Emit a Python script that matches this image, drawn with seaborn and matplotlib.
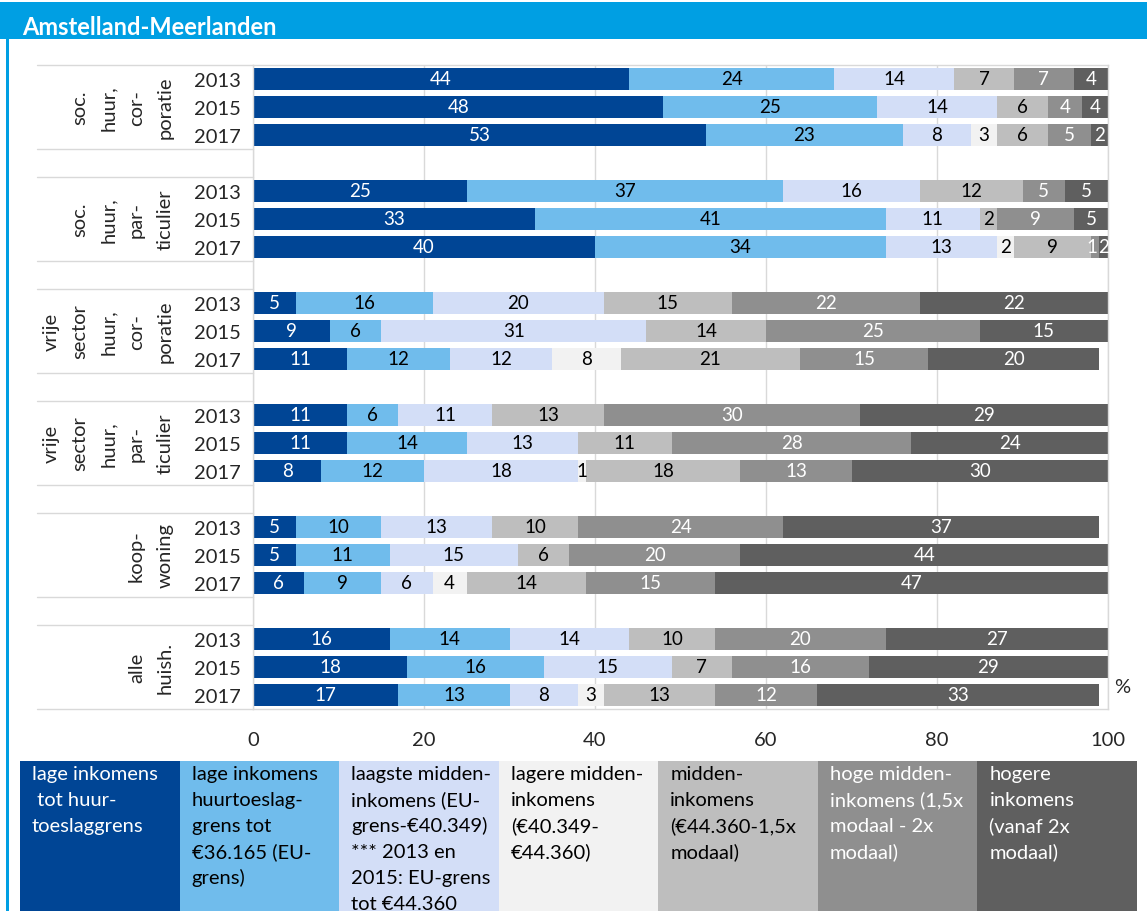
import numpy as np
import pandas as pd
import matplotlib
matplotlib.use("Agg")
import matplotlib.pyplot as plt
import seaborn as sns
from matplotlib.patches import Rectangle
from matplotlib.transforms import blended_transform_factory

# ---- data -------------------------------------------------------------
title = "Amstelland-Meerlanden"
groups = [
    "soc.\nhuur,\ncor-\nporatie",
    "soc.\nhuur,\npar-\nticulier",
    "vrije\nsector\nhuur,\ncor-\nporatie",
    "vrije\nsector\nhuur,\npar-\nticulier",
    "koop-\nwoning",
    "alle\nhuish.",
]
years = ["2013", "2015", "2017"]

categories = [
    "lage inkomens\n tot huur-\ntoeslaggrens",
    "lage inkomens\nhuurtoeslag-\ngrens tot\n€36.165 (EU-\ngrens)",
    "laagste midden-\ninkomens (EU-\ngrens-€40.349)\n*** 2013 en\n2015: EU-grens\ntot €44.360",
    "lagere midden-\ninkomens\n(€40.349-\n€44.360)",
    "midden-\ninkomens\n(€44.360-1,5x\nmodaal)",
    "hoge midden-\ninkomens (1,5x\nmodaal - 2x\nmodaal)",
    "hogere\ninkomens\n(vanaf 2x\nmodaal)",
]
colors = ["#004595", "#70bcec", "#d3def7", "#f2f2f2", "#bebebe", "#8f8f8f", "#5f5f5f"]
text_colors = ["white", "black", "black", "black", "black", "white", "white"]

# one value per group x year (2013, 2015, 2017), in group order
lage = [44, 48, 53, 25, 33, 40, 5, 9, 11, 11, 11, 8, 5, 5, 6, 16, 18, 17]
huurtoeslag = [24, 25, 23, 37, 41, 34, 16, 6, 12, 6, 14, 12, 10, 11, 9, 14, 16, 13]
laagste_midden = [14, 14, 8, 16, 11, 13, 20, 31, 12, 11, 13, 18, 13, 15, 6, 14, 15, 8]
lagere_midden = [0, 0, 3, 0, 0, 2, 0, 0, 8, 0, 0, 1, 0, 0, 4, 0, 0, 3]
midden = [7, 6, 6, 12, 2, 9, 15, 14, 21, 13, 11, 18, 10, 6, 14, 10, 7, 13]
hoge_midden = [7, 4, 5, 5, 9, 1, 22, 25, 15, 30, 28, 13, 24, 20, 15, 20, 16, 12]
hogere = [4, 4, 2, 5, 5, 2, 22, 15, 20, 29, 24, 30, 37, 44, 47, 27, 29, 33]

x_ticks = [0, 20, 40, 60, 80, 100]

# ---- styling ------------------------------------------------------------
sns.set_style("white")
plt.rcParams["font.family"] = ["Lato", "DejaVu Sans"]
FS = 14.5
LABEL_FS = 13.5
GRID = "#d9d9d9"
BLUE = "#009fe3"

W, H = 1147, 912
fig = plt.figure(figsize=(W / 100, H / 100), dpi=100)
fig.patch.set_facecolor("white")

def fx(px):
    return px / W

def fy(py):
    return 1 - py / H

# header bar and left frame line
fig.add_artist(Rectangle((0, fy(40)), 1, 37 / H, transform=fig.transFigure,
                         color=BLUE, lw=0, zorder=0))
fig.add_artist(Rectangle((fx(6), 0), 2.5 / W, fy(40), transform=fig.transFigure,
                         color=BLUE, lw=0, zorder=0))
fig.text(fx(22), fy(35), title, color="white", fontsize=17, fontweight="bold",
         ha="left", va="baseline")

# ---- stacked bars ---------------------------------------------------------
ax_left, ax_right, ax_top, ax_bot = 253, 1108, 66, 710
ax = fig.add_axes([fx(ax_left), fy(ax_bot), (ax_right - ax_left) / W, (ax_bot - ax_top) / H])

n_years = len(years)
slot = n_years + 1
pos = [g * slot + k for g in range(len(groups)) for k in range(n_years)]
values = np.array([lage, huurtoeslag, laagste_midden, lagere_midden,
                   midden, hoge_midden, hogere], dtype=float)
cum = values.cumsum(axis=0)

df = pd.DataFrame({"pos": pos})
for i in reversed(range(len(categories))):
    df["end"] = np.minimum(cum[i], 100)
    sns.barplot(data=df, x="end", y="pos", orient="h", native_scale=True,
                color=colors[i], saturation=1, width=0.78, errorbar=None,
                linewidth=0, ax=ax, zorder=2)

n_slots = len(groups) * slot - 1
ax.set_ylim(n_slots - 0.5, -0.5)
ax.set_xlim(0, 100)
ax.set_xlabel("")
ax.set_ylabel("")

# value labels centred on each segment; neighbours on very thin
# segments are nudged apart so the digits stay readable
digit_w = 1.2  # approximate width of one digit in axis units
for r, p in enumerate(pos):
    items = []
    for i in range(len(categories)):
        v = values[i, r]
        if v <= 0:
            continue
        start = min(cum[i, r] - v, 100)
        end = min(cum[i, r], 100)
        txt = f"{int(v)}"
        items.append([(start + end) / 2, txt, i])
    for k in range(len(items) - 2, -1, -1):
        right_c, right_t = items[k + 1][0], items[k + 1][1]
        c, t = items[k][0], items[k][1]
        min_gap = digit_w * (len(t) + len(right_t)) / 2 + 0.15
        if right_c - c < min_gap:
            items[k][0] = right_c - min_gap
    for c, txt, i in items:
        ax.text(c, p, txt, ha="center", va="center", color=text_colors[i],
                fontsize=LABEL_FS, zorder=3)

ax.set_xticks(x_ticks)
ax.set_xticklabels([str(t) for t in x_ticks], fontsize=FS)
ax.set_yticks(pos)
ax.set_yticklabels(years * len(groups), fontsize=FS)
ax.tick_params(axis="x", length=0, pad=16)
ax.tick_params(axis="y", length=0, pad=9)
ax.grid(axis="x", color=GRID, lw=1)
ax.grid(axis="y", visible=False)
ax.set_axisbelow(True)
for s in ax.spines.values():
    s.set_visible(True)
    s.set_color(GRID)
    s.set_linewidth(1)

# group labels and their separator lines on the category axis
trans = blended_transform_factory(ax.transAxes, ax.transData)
ax_w = ax_right - ax_left
for g, label in enumerate(groups):
    lines = label.split("\n")
    yc = g * slot + (n_years - 1) / 2
    for j, line in enumerate(lines):
        xc = 165 - 28.5 * (len(lines) - 1 - j)
        ax.text((xc - ax_left) / ax_w, yc, line, transform=trans, rotation=90,
                ha="center", va="center", fontsize=FS, clip_on=False)
    for yl in (g * slot - 0.5, g * slot + n_years - 0.5):
        ax.plot([(37 - ax_left) / ax_w, 0], [yl, yl], transform=trans,
                color=GRID, lw=1, clip_on=False)

ax.text((1114 - ax_left) / ax_w, pos[-1] - 0.3, "%", transform=trans,
        ha="left", va="center", fontsize=FS, clip_on=False)

# ---- legend boxes ---------------------------------------------------------
leg_top, leg_left, leg_right = 762, 20, 1137
lax = fig.add_axes([fx(leg_left), 0, (leg_right - leg_left) / W, (H - leg_top) / H])
lax.set_xlim(0, len(categories))
lax.set_ylim(H - leg_top, 0)
lax.axis("off")
box_w = (leg_right - leg_left) / len(categories)
for i, cat in enumerate(categories):
    lax.add_patch(Rectangle((i, 0), 1, H - leg_top, color=colors[i], lw=0))
    for k, line in enumerate(cat.split("\n")):
        lax.text(i + 12 / box_w, 18 + 26 * k, line, color=text_colors[i],
                 fontsize=FS, ha="left", va="baseline", clip_on=True)

fig.savefig("out.png", dpi=100, facecolor="white")
